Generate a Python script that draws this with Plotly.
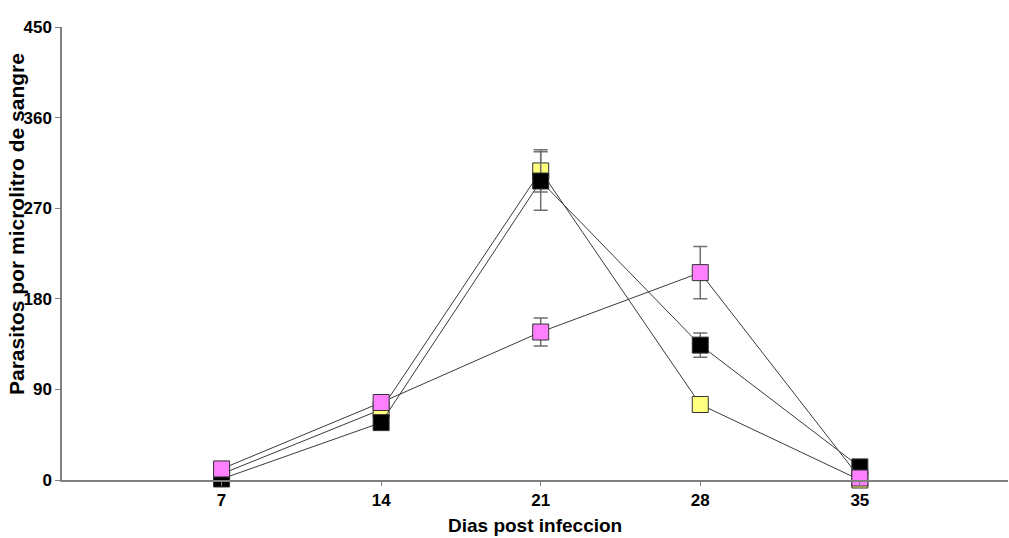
import plotly.graph_objects as go

# Days post infection and parasitemia per group
days = [7, 14, 21, 28, 35]
yellow_vals = [6, 70, 307, 75, 0]
yellow_err = [2, 3, 21, 3, 1]
black_vals = [1, 57, 297, 134, 13]
black_err = [2, 3, 29, 12, 2]
pink_vals = [11, 77, 147, 206, 2]
pink_err = [2, 3, 14, 26, 1]

y_ticks = [0, 90, 180, 270, 360, 450]

FONT = "Liberation Sans, Arial, sans-serif"

def series(vals, err, color):
    return go.Scatter(
        x=days, y=vals,
        mode="lines+markers",
        line=dict(color="#3a3a3a", width=1),
        marker=dict(symbol="square", size=16, color=color,
                    line=dict(color="#333333", width=1)),
        error_y=dict(type="data", array=err, visible=True,
                     color="#707070", thickness=1.5, width=7),
        cliponaxis=False,
        showlegend=False,
    )

fig = go.Figure()
fig.add_trace(series(yellow_vals, yellow_err, "#FFFF80"))
fig.add_trace(series(black_vals, black_err, "#000000"))
fig.add_trace(series(pink_vals, pink_err, "#FF80FF"))

fig.update_layout(
    width=1009, height=538,
    margin=dict(l=62, r=1, t=27, b=58, autoexpand=False),
    paper_bgcolor="white", plot_bgcolor="white",
    font=dict(family=FONT, color="black"),
)
fig.update_xaxes(
    range=[0, 41.5],
    tickvals=days, ticktext=[f"<b>{d}</b>" for d in days],
    tickfont=dict(size=17, family=FONT),
    ticks="outside", ticklen=4, tickcolor="#808080",
    showline=True, linecolor="#808080", linewidth=2,
    showgrid=False, zeroline=False,
)
fig.update_yaxes(
    range=[0, 450],
    tickvals=y_ticks, ticktext=[f"<b>{v}</b>" for v in y_ticks],
    tickfont=dict(size=17, family=FONT),
    ticks="outside", ticklen=5, tickcolor="#808080",
    showline=True, linecolor="#808080", linewidth=1.5,
    showgrid=False, zeroline=False,
)

# Axis titles
fig.add_annotation(
    text="<b>Dias post infeccion</b>", xref="paper", yref="paper",
    x=0.5, y=0, xanchor="center", yanchor="middle", yshift=-45,
    showarrow=False, font=dict(size=19, family=FONT),
)
fig.add_annotation(
    text="<b>Parasitos por microlitro de sangre</b>", xref="paper", yref="paper",
    x=0, y=0.565, xanchor="center", yanchor="middle", xshift=-46,
    textangle=-90, showarrow=False, font=dict(size=21, family=FONT),
)

fig.write_html("out.html")
